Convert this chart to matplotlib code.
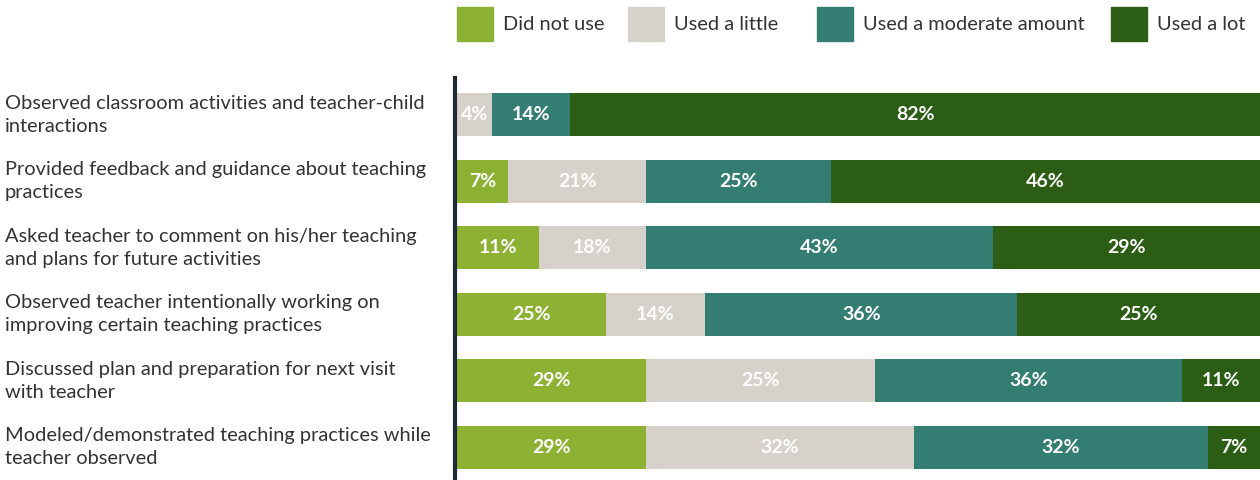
import numpy as np
import matplotlib.pyplot as plt
from matplotlib.patches import Rectangle

plt.rcParams['font.family'] = ['Lato', 'DejaVu Sans']

categories = [
    "Observed classroom activities and teacher-child\ninteractions",
    "Provided feedback and guidance about teaching\npractices",
    "Asked teacher to comment on his/her teaching\nand plans for future activities",
    "Observed teacher intentionally working on\nimproving certain teaching practices",
    "Discussed plan and preparation for next visit\nwith teacher",
    "Modeled/demonstrated teaching practices while\nteacher observed",
]
series_names = ["Did not use", "Used a little", "Used a moderate amount", "Used a lot"]
series_colors = ["#8db233", "#d6d2cb", "#347d72", "#2b5e14"]

# bar lengths as drawn in the picture (share of the bar, %)
did_not_use = [0.0, 6.3, 10.2, 18.5, 23.5, 23.5]
used_little = [4.4, 17.3, 13.3, 12.4, 28.6, 33.4]
used_moderate = [9.7, 23.0, 43.2, 38.9, 38.2, 36.6]
used_lot = [85.9, 53.4, 33.3, 30.2, 9.7, 6.5]

# printed labels
lab_did_not_use = ["", "7%", "11%", "25%", "29%", "29%"]
lab_used_little = ["4%", "21%", "18%", "14%", "25%", "32%"]
lab_used_moderate = ["14%", "25%", "43%", "36%", "36%", "32%"]
lab_used_lot = ["82%", "46%", "29%", "25%", "11%", "7%"]

series = [did_not_use, used_little, used_moderate, used_lot]
labels = [lab_did_not_use, lab_used_little, lab_used_moderate, lab_used_lot]

fig = plt.figure(figsize=(12.6, 4.8), dpi=100)
ax = fig.add_axes([454.5 / 1260, 0, 1 - 454.5 / 1260, 402 / 480])

y = np.arange(len(categories))
left = np.zeros(len(categories))
for vals, labs, color in zip(series, labels, series_colors):
    vals = np.array(vals)
    ax.barh(y, vals, left=left, height=0.65, color=color, edgecolor='none')
    for yi, l, v, t in zip(y, left, vals, labs):
        if t:
            ax.text(l + v / 2, yi, t, ha='center', va='center', color='white',
                    fontsize=14, fontweight='bold')
    left = left + vals

ax.set_xlim(-0.31, 100)
ax.set_ylim(5.49, -0.55)
ax.set_xticks([])
ax.set_yticks([])
for s in ['top', 'right', 'bottom']:
    ax.spines[s].set_visible(False)
ax.spines['left'].set_color('#1f2a36')
ax.spines['left'].set_linewidth(3)

# category labels on the left
for yi, cat in zip(y, categories):
    yf = ax.transData.transform((0, yi))[1] / fig.bbox.height
    fig.text(5 / 1260, yf, cat, ha='left', va='center', fontsize=14.4,
             color='#333333', linespacing=1.42)

# legend at the top
leg_x = [457, 628, 817, 1111]
for x0, name, color in zip(leg_x, series_names, series_colors):
    fig.patches.append(Rectangle((x0 / 1260, 1 - 41 / 480), 36 / 1260, 34 / 480,
                                 transform=fig.transFigure, color=color))
    fig.text((x0 + 46) / 1260, 1 - 25 / 480, name, ha='left', va='center',
             fontsize=14.4, color='#333333')

fig.savefig('out.png', dpi=100)
